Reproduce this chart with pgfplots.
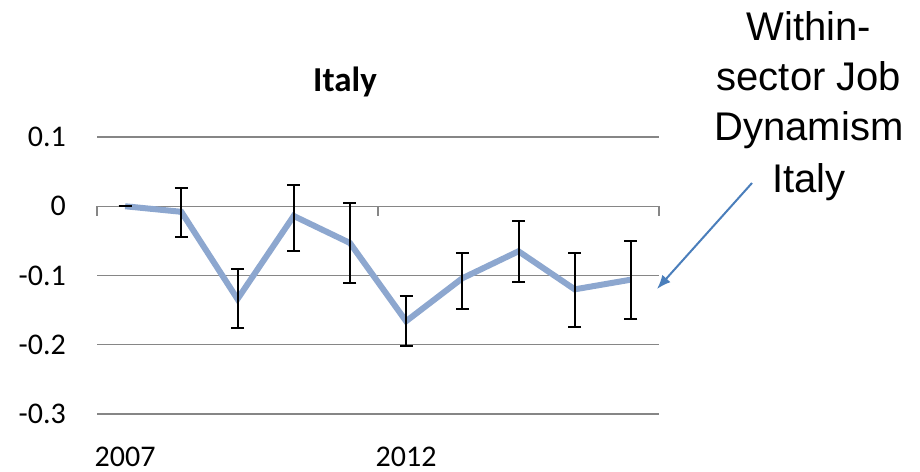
\documentclass[border=0pt]{standalone}
\usepackage{pgfplots}
\pgfplotsset{compat=1.18}
\usetikzlibrary{arrows.meta}
\usepackage{fontspec}
\setmainfont{Carlito}
\newfontfamily\arial{Liberation Sans}
\definecolor{serie}{RGB}{141,167,207}
\definecolor{gridc}{RGB}{134,134,134}
\definecolor{arrowc}{RGB}{74,126,187}
\begin{document}
\begin{tikzpicture}
\useasboundingbox (0,0) rectangle (920bp,-472bp);
\begin{axis}[
  at={(97bp,-414bp)}, anchor=south west,
  scale only axis, width=562bp, height=277bp,
  xmin=-0.5, xmax=9.5, ymin=-0.3, ymax=0.1,
  axis line style={draw=none},
  ymajorgrids, grid style={gridc, line width=1.4bp},
  major tick length=0pt,
  ytick={-0.3,-0.2,-0.1,0,0.1},
  yticklabels={-0.3,-0.2,-0.1,0,0.1},
  xtick={0,5}, xticklabels={2007,2012},
  yticklabel style={font=\fontsize{30bp}{36bp}\selectfont, anchor=east, inner sep=0pt, xshift=-31bp},
  xticklabel style={font=\fontsize{30bp}{36bp}\selectfont, anchor=base, inner sep=0pt, yshift=-52bp},
  clip=false,
]
\draw[gridc, line width=1.4bp] (axis cs:-0.5,0) -- ([yshift=-10bp]axis cs:-0.5,0);
\draw[gridc, line width=1.4bp] (axis cs:4.5,0) -- ([yshift=-10bp]axis cs:4.5,0);
\draw[gridc, line width=1.4bp] (axis cs:9.5,0) -- ([yshift=-10bp]axis cs:9.5,0);
\addplot[serie, line width=6bp, no markers,
  error bars/.cd, y dir=both, y explicit,
  error bar style={black, line width=2bp},
  error mark options={black, rotate=90, mark size=6.5bp, line width=2bp}]
  table[x=x, y=y, y error plus=ep, y error minus=em] {
x y ep em
0 0 0 0
1 -0.008 0.035 0.037
2 -0.134 0.043 0.042
3 -0.014 0.045 0.050
4 -0.053 0.058 0.058
5 -0.166 0.036 0.036
6 -0.104 0.037 0.045
7 -0.065 0.043 0.045
8 -0.120 0.053 0.054
9 -0.106 0.056 0.057
};
\end{axis}
\node[anchor=base, inner sep=0pt, font=\fontsize{35bp}{42bp}\selectfont\bfseries] at (345bp,-91bp) {Italy};
\begin{scope}[every node/.style={anchor=base, inner sep=0pt, font=\arial\fontsize{40bp}{48bp}\selectfont}]
\node at (809bp,-40bp) {Within-};
\node at (809bp,-90bp) {sector Job};
\node at (809bp,-140bp) {Dynamism};
\node at (809bp,-192bp) {Italy};
\end{scope}
\draw[arrowc, line width=2bp, -{Latex[length=14bp,width=11bp]}] (752bp,-183bp) -- (657bp,-289bp);
\end{tikzpicture}
\end{document}
